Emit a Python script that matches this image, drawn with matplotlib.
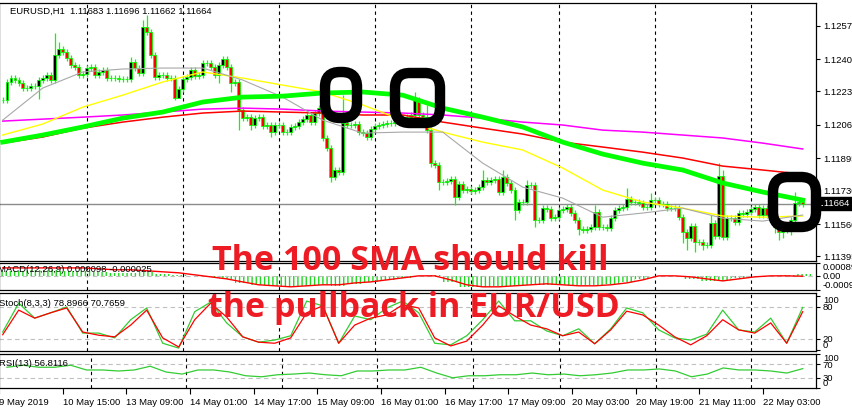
import numpy as np
import matplotlib
matplotlib.use("Agg")
import matplotlib.pyplot as plt
from matplotlib.patches import FancyBboxPatch
from matplotlib.transforms import Affine2D, blended_transform_factory

plt.rcParams['font.family'] = ['Liberation Sans', 'DejaVu Sans']
plt.rcParams['hatch.linewidth'] = 1.0

W, H = 852, 409

# hourly closes EURUSD
closes = [
    1.12191, 1.12283, 1.12303, 1.12293, 1.12278, 1.12252, 1.12252, 1.12262, 1.12262, 1.12293,
    1.12303, 1.12318, 1.12293, 1.12420, 1.12451, 1.12435, 1.12405, 1.12369, 1.12359, 1.12318,
    1.12323, 1.12354, 1.12359, 1.12318, 1.12334, 1.12344, 1.12303, 1.12303, 1.12303, 1.12298,
    1.12298, 1.12298, 1.12384, 1.12354, 1.12328, 1.12563, 1.12537, 1.12420, 1.12308, 1.12318,
    1.12318, 1.12303, 1.12303, 1.12201, 1.12247, 1.12298, 1.12308, 1.12344, 1.12313, 1.12318,
    1.12379, 1.12379, 1.12359, 1.12318, 1.12369, 1.12400, 1.12359, 1.12278, 1.12283, 1.12140,
    1.12099, 1.12104, 1.12064, 1.12099, 1.12104, 1.12059, 1.12064, 1.12028, 1.12064, 1.12064,
    1.12028, 1.12028, 1.12054, 1.12059, 1.12079, 1.12094, 1.12115, 1.12079, 1.12125, 1.12150,
    1.11998, 1.11947, 1.11799, 1.11835, 1.11825, 1.12074, 1.12064, 1.12064, 1.12069, 1.12028,
    1.12023, 1.12003, 1.12043, 1.12059, 1.12064, 1.12069, 1.12074, 1.12074, 1.12079, 1.12084,
    1.12099, 1.12104, 1.12115, 1.12191, 1.12115, 1.12104, 1.12038, 1.11870, 1.11860, 1.11774,
    1.11774, 1.11779, 1.11789, 1.11697, 1.11763, 1.11733, 1.11738, 1.11728, 1.11733, 1.11748,
    1.11784, 1.11774, 1.11784, 1.11789, 1.11723, 1.11799, 1.11769, 1.11733, 1.11631, 1.11672,
    1.11672, 1.11758, 1.11758, 1.11580, 1.11580, 1.11641, 1.11636, 1.11590, 1.11595, 1.11631,
    1.11636, 1.11646, 1.11616, 1.11580, 1.11534, 1.11529, 1.11534, 1.11545, 1.11621, 1.11545,
    1.11545, 1.11539, 1.11590, 1.11631, 1.11641, 1.11646, 1.11687, 1.11672, 1.11672, 1.11667,
    1.11646, 1.11646, 1.11682, 1.11682, 1.11662, 1.11662, 1.11641, 1.11641, 1.11641, 1.11595,
    1.11519, 1.11489, 1.11550, 1.11468, 1.11468, 1.11453, 1.11453, 1.11565, 1.11499, 1.11804,
    1.11494, 1.11590, 1.11590, 1.11570, 1.11616, 1.11611, 1.11621, 1.11636, 1.11646, 1.11606,
    1.11641, 1.11606, 1.11595, 1.11545, 1.11519, 1.11529, 1.11529, 1.11580, 1.11667, 1.11672,
    1.11664,
]
wick = 0.00015
long_highs = {13: 1.12532, 14: 1.12486, 32: 1.12410, 35: 1.12598, 36: 1.12624, 80: 1.12150,
              85: 1.12216, 103: 1.12232, 106: 1.12166, 120: 1.11835, 125: 1.11835,
              131: 1.11784, 148: 1.11657, 156: 1.11743, 162: 1.11718, 177: 1.11606,
              179: 1.11870, 180: 1.11835, 198: 1.11723}
long_lows = {9: 1.12196, 43: 1.12191, 44: 1.12206, 54: 1.12278, 57: 1.12232, 59: 1.12038,
             62: 1.12038, 67: 1.12003, 82: 1.11774, 107: 1.11850, 109: 1.11733, 113: 1.11657,
             128: 1.11580, 133: 1.11545, 144: 1.11504, 170: 1.11463, 171: 1.11427,
             173: 1.11417, 175: 1.11427, 180: 1.11478, 193: 1.11514, 194: 1.11478,
             195: 1.11489, 197: 1.11504}

# moving averages, sampled every 10 bars
ma_idx = list(range(0, 201, 10))
ma_gray = [1.12089, 1.12252, 1.12334, 1.12349, 1.12354, 1.12354, 1.12293, 1.12206, 1.12089, 1.12023,
           1.12028, 1.12028, 1.11870, 1.11748, 1.11692, 1.11595, 1.11616, 1.11641, 1.11590, 1.11575, 1.11606]
ma_yellow = [1.12013, 1.12069, 1.12155, 1.12216, 1.12283, 1.12334, 1.12303, 1.12267, 1.12232, 1.12166,
             1.12089, 1.12028, 1.11977, 1.11937, 1.11845, 1.11733, 1.11672, 1.11641, 1.11601, 1.11595, 1.11601]
ma_green = [1.11977, 1.12013, 1.12054, 1.12099, 1.12130, 1.12181, 1.12206, 1.12211, 1.12227, 1.12232,
            1.12216, 1.12150, 1.12104, 1.12054, 1.11977, 1.11916, 1.11870, 1.11835, 1.11769, 1.11723, 1.11682]
ma_red = [1.11972, 1.12003, 1.12048, 1.12079, 1.12104, 1.12125, 1.12135, 1.12130, 1.12125, 1.12115,
          1.12115, 1.12079, 1.12048, 1.12018, 1.11977, 1.11952, 1.11926, 1.11896, 1.11855, 1.11835, 1.11814]
ma_magenta = [1.12084, 1.12094, 1.12104, 1.12115, 1.12130, 1.12145, 1.12150, 1.12145, 1.12135, 1.12130,
              1.12125, 1.12115, 1.12099, 1.12079, 1.12064, 1.12038, 1.12028, 1.12013, 1.11998, 1.11972, 1.11942]

# oscillators, sampled every 4 bars
osc_idx = list(range(0, 201, 4))
macd_main = [0.00035, 0.00035, 0.00042, 0.00042, 0.00035, 0.00035, 0.00028, 0.00021, 0.00021, 0.00028,
             0.00014, 0.00007, 0.0, -0.00007, -0.00021, -0.00049, -0.00062, -0.00069, -0.00076, -0.00069,
             -0.00062, -0.00069, -0.00055, -0.00042, -0.00028, -0.00014, 0.0, 0.00007, -0.00042, -0.00076,
             -0.00076, -0.00069, -0.00069, -0.00062, -0.00062, -0.00062, -0.00062, -0.00062, -0.00055, -0.00042,
             -0.00021, 0.0, 0.0, -0.00021, -0.00035, -0.00035, -0.00014, 0.0, 0.0, 0.00007, 0.0001]
macd_signal = [0.00055, 0.00055, 0.00055, 0.00055, 0.00055, 0.00055, 0.00049, 0.00042, 0.00042, 0.00035,
               0.00028, 0.00021, 0.00007, -0.00007, -0.00021, -0.00042, -0.00062, -0.00069, -0.00076, -0.00069,
               -0.00062, -0.00062, -0.00049, -0.00042, -0.00028, -0.00014, 0.0, 0.0, -0.00028, -0.00062,
               -0.00076, -0.00076, -0.00069, -0.00062, -0.00055, -0.00062, -0.00069, -0.00069, -0.00062, -0.00049,
               -0.00028, 0.0, 0.0, -0.00007, -0.00021, -0.00035, -0.00021, -0.00007, 0.0, 0.0, -0.000025]
stoch_main = [33, 87, 59, 69, 80, 31, 31, 22, 56, 78, 12, 3, 71, 89, 50, 24, 14, 18, 26, 91, 82, 12, 63,
              56, 78, 91, 69, 12, 9, 26, 56, 91, 54, 54, 35, 26, 39, 11, 39, 78, 69, 37, 22, 18, 29,
              74, 37, 33, 59, 12, 79]
stoch_sig = [28, 74, 59, 69, 78, 33, 27, 24, 46, 74, 22, 5, 56, 87, 61, 24, 14, 12, 22, 69, 82, 12, 46,
             59, 65, 84, 78, 22, 7, 16, 46, 82, 63, 46, 39, 26, 33, 11, 37, 72, 65, 46, 24, 9, 26,
             56, 37, 31, 50, 12, 71]
rsi = [61, 67, 61, 61, 67, 53, 53, 50, 53, 64, 47, 41, 53, 53, 47, 36, 33, 39, 41, 44, 39, 36, 50, 50,
       53, 53, 61, 44, 30, 36, 36, 39, 39, 44, 39, 41, 36, 39, 44, 53, 53, 56, 50, 33, 41, 59, 53, 53,
       50, 44, 57]

price_ticks = [1.12570, 1.12400, 1.12235, 1.12065, 1.11895, 1.11730, 1.11560, 1.11395]
sep_idx = [21, 45, 69, 93, 117, 139, 163, 187]
time_idx = [-2, 14, 30, 46, 62, 78, 94, 110, 126, 142, 158, 174, 190]
time_labels = ["9 May 2019", "10 May 15:00", "13 May 09:00", "14 May 01:00", "14 May 17:00",
               "15 May 09:00", "16 May 01:00", "16 May 17:00", "17 May 09:00", "20 May 03:00",
               "20 May 19:00", "21 May 11:00", "22 May 03:00"]

opens = [closes[0]] + closes[:-1]
n = len(closes)
x = np.arange(n)
highs = [long_highs.get(i, max(opens[i], closes[i]) + wick) for i in range(n)]
lows = [long_lows.get(i, min(opens[i], closes[i]) - wick) for i in range(n)]

fig = plt.figure(figsize=(W / 100, H / 100), dpi=100)


def panel(top, bottom):
    ax = fig.add_axes([-1 / W, 1 - bottom / H, 817 / W, (bottom - top) / H])
    ax.set_xlim((-1 - 2.7) / 4, (816 - 2.7) / 4)
    for sp in ax.spines.values():
        sp.set_linewidth(0.9)
    ax.yaxis.tick_right()
    ax.tick_params(axis='y', direction='out', length=3, width=0.8, pad=2, labelsize=6.8)
    ax.tick_params(axis='x', bottom=False, labelbottom=False)
    for i in sep_idx:
        ax.axvline(i, color='black', lw=0.8, ls=(0, (3, 3)), zorder=0.5)
    return ax


ax = panel(3, 261)
ax_macd = panel(263, 290)
ax_st = panel(293, 351)
ax_rsi = panel(354, 388)

# main price panel
ax.set_ylim(1.11372, 1.12685)
ax.set_yticks(price_ticks)
ax.set_yticklabels([f"{p:.5f}" for p in price_ticks])
ax.axhline(closes[-1], color='#8c8c8c', lw=1.0, zorder=1)
ax.vlines(x, lows, highs, color='#00ff00', lw=0.9, zorder=2)
body_col = ['black' if c >= o else '#ff0000' for o, c in zip(opens, closes)]
ax.bar(x, np.array(closes) - np.array(opens), bottom=opens, width=0.6, color=body_col,
       edgecolor='#00ff00', linewidth=0.6, zorder=3)
ax.plot(ma_idx, ma_magenta, color='#ff00ff', lw=1.1, zorder=4)
ax.plot(ma_idx, ma_red, color='#ff0000', lw=1.1, zorder=4)
ax.plot(ma_idx, ma_yellow, color='#ffff00', lw=1.0, zorder=4)
ax.plot(ma_idx, ma_gray, color='#a8a8a8', lw=0.8, zorder=4)
ax.plot(ma_idx, ma_green, color='#00ff00', lw=3.4, zorder=4)
ax.text(1.0, closes[-1], f"{closes[-1]:.5f}", transform=blended_transform_factory(ax.transAxes, ax.transData),
        color='white', fontsize=6.8, va='center', ha='left', zorder=10, clip_on=False,
        bbox=dict(boxstyle='square,pad=0.25', fc='black', ec='black'))
fig.text(10 / W, 1 - 11 / H, "EURUSD,H1  1.11683 1.11696 1.11662 1.11664", fontsize=6.8, va='center')

# MACD
ax_macd.set_ylim(-0.00098, 0.00089)
ax_macd.axhline(0, color='#c0c0c0', lw=0.8, ls=(0, (4, 3)))
ax_macd.bar(osc_idx, macd_main, width=4, color='none', edgecolor='#1ed81e', linewidth=0,
            hatch='||||')
ax_macd.plot(osc_idx, macd_signal, color='#ff0000', lw=1.0)
ax_macd.set_yticks([0.00089, 0.0, -0.00098])
ax_macd.set_yticklabels(["0.00089", "0.00", "-0.0009"])
ax_macd.get_yticklabels()[0].set_va('top')
ax_macd.get_yticklabels()[2].set_va('bottom')
fig.text(-2 / W, 1 - 270 / H, "MACD(12,26,9) 0.000098 -0.000025", fontsize=6.8, va='center')

# Stochastic
ax_st.set_ylim(-2.5, 106)
for lv in (20, 80):
    ax_st.axhline(lv, color='#c0c0c0', lw=0.8, ls=(0, (4, 3)))
ax_st.plot(osc_idx, stoch_main, color='#33cc33', lw=0.9)
ax_st.plot(osc_idx, stoch_sig, color='#ff0000', lw=0.9)
ax_st.set_yticks([100, 80, 20, 0])
ax_st.set_yticklabels(["100", "80", "20", "0"])
ax_st.get_yticklabels()[0].set_va('top')
ax_st.get_yticklabels()[3].set_va('bottom')
fig.text(-1 / W, 1 - 304 / H, "Stoch(8,3,3) 78.8966 70.7659", fontsize=6.8, va='center')

# RSI
ax_rsi.set_ylim(0, 100)
for lv in (30, 70):
    ax_rsi.axhline(lv, color='#c0c0c0', lw=0.8, ls=(0, (4, 3)))
ax_rsi.plot(osc_idx, rsi, color='#33cc33', lw=0.9)
ax_rsi.set_yticks([100, 70, 30, 0])
ax_rsi.set_yticklabels(["100", "70", "30", "0"])
ax_rsi.get_yticklabels()[0].set_va('top')
ax_rsi.get_yticklabels()[3].set_va('bottom')
fig.text(-1 / W, 1 - 363 / H, "RSI(13) 56.8116", fontsize=6.8, va='center')
ax_rsi.tick_params(axis='x', bottom=True, labelbottom=True, direction='out', length=4,
                   width=0.8, pad=3, labelsize=6.8)
ax_rsi.set_xticks(time_idx)
ax_rsi.set_xticklabels(time_labels)
for lab in ax_rsi.get_xticklabels():
    lab.set_ha('left')

# black hand-drawn rings
px = Affine2D().scale(1 / W, 1 / H) + fig.transFigure
for x0, y0, x1, y1 in [(325, 72, 357, 118), (395, 73, 440, 123), (773, 177, 816, 227)]:
    ring = FancyBboxPatch((x0, H - y1), x1 - x0, y1 - y0, boxstyle="round,pad=0,rounding_size=15",
                          transform=px, fill=False, ec='black', lw=7.5, zorder=20)
    fig.patches.append(ring)

fig.text(410 / W, 1 - 270 / H, "The 100 SMA should kill", ha='center', va='baseline',
         fontsize=24.5, fontweight='bold', family='Open Sans', color='#ed1c24', zorder=30)
fig.text(414 / W, 1 - 317 / H, "the pullback in EUR/USD", ha='center', va='baseline',
         fontsize=24.5, fontweight='bold', family='Open Sans', color='#ed1c24', zorder=30)

fig.savefig("out.png", dpi=100)
